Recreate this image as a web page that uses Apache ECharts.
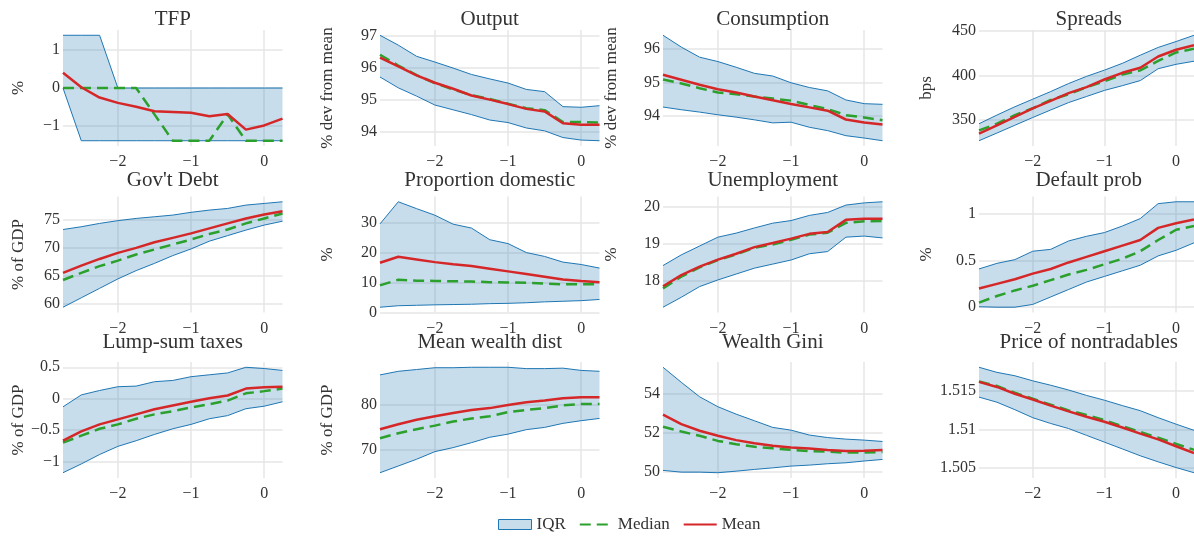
<!DOCTYPE html>
<html>
<head>
<meta charset="utf-8">
<script src="https://cdn.jsdelivr.net/npm/echarts@6/dist/echarts.min.js"></script>
<style>
  html, body { margin: 0; padding: 0; background: #fff; }
  #chart { width: 1194px; height: 536px; }
</style>
</head>
<body>
<div id="chart"></div>
<script>
// Quarters relative to the default event
const quarters = [-2.75, -2.5, -2.25, -2, -1.75, -1.5, -1.25, -1, -0.75, -0.5, -0.25, 0, 0.25];
const xTicks = [-2, -1, 0];

// TFP (%)
const tfpUpper  = [1.38, 1.38, 1.38, 0, 0, 0, 0, 0, 0, 0, 0, 0, 0];
const tfpLower  = [0, -1.38, -1.38, -1.38, -1.38, -1.38, -1.38, -1.38, -1.38, -1.38, -1.38, -1.38, -1.38];
const tfpMedian = [0, 0, 0, 0, 0, -0.69, -1.38, -1.38, -1.38, -0.69, -1.38, -1.38, -1.38];
const tfpMean   = [0.40, 0.02, -0.25, -0.39, -0.49, -0.61, -0.63, -0.65, -0.74, -0.68, -1.09, -0.98, -0.80];
const tfpTicks  = [-1, 0, 1];

// Output (% dev from mean)
const outputUpper  = [97.03, 96.72, 96.37, 96.19, 96.0, 95.8, 95.66, 95.53, 95.33, 95.26, 94.79, 94.77, 94.82];
const outputLower  = [95.72, 95.38, 95.12, 94.84, 94.69, 94.54, 94.37, 94.29, 94.12, 94.03, 93.82, 93.74, 93.72];
const outputMedian = [96.42, 96.08, 95.78, 95.53, 95.33, 95.15, 95.03, 94.88, 94.74, 94.68, 94.31, 94.31, 94.29];
const outputMean   = [96.33, 96.05, 95.77, 95.54, 95.35, 95.14, 95.01, 94.87, 94.72, 94.64, 94.27, 94.22, 94.22];
const outputTicks  = [94, 95, 96, 97];

// Consumption (% dev from mean)
const consUpper  = [96.4, 96.05, 95.75, 95.62, 95.45, 95.27, 95.19, 94.99, 94.85, 94.75, 94.48, 94.37, 94.35];
const consLower  = [94.27, 94.19, 94.12, 94.04, 93.97, 93.89, 93.8, 93.82, 93.67, 93.57, 93.42, 93.35, 93.27];
const consMedian = [95.09, 94.97, 94.83, 94.7, 94.65, 94.58, 94.52, 94.46, 94.33, 94.21, 94.03, 93.96, 93.88];
const consMean   = [95.23, 95.08, 94.93, 94.8, 94.7, 94.58, 94.47, 94.36, 94.26, 94.16, 93.9, 93.81, 93.75];
const consTicks  = [94, 95, 96];

// Spreads (bps)
const spreadUpper  = [346, 355.7, 365, 373.5, 382, 391, 399, 406, 413.6, 422.7, 431.4, 438, 445];
const spreadLower  = [327, 335.6, 344.3, 353, 361.4, 369.7, 376.5, 383.3, 388.6, 394.3, 407.6, 412.5, 416];
const spreadMedian = [338.6, 346, 355.7, 363.3, 372.7, 379, 387, 393.5, 401, 405.7, 416.3, 425.8, 430];
const spreadMean   = [335, 344.3, 353.8, 363.3, 371.6, 380.3, 387, 395.5, 403, 408.7, 421.2, 428.8, 434];
const spreadTicks  = [350, 400, 450];

// Gov't Debt (% of GDP)
const debtUpper  = [73.3, 73.8, 74.4, 74.9, 75.3, 75.6, 75.9, 76.4, 76.8, 77.1, 77.7, 78.0, 78.3];
const debtLower  = [59.3, 61.0, 62.7, 64.4, 65.9, 67.2, 68.6, 69.8, 71.2, 72.2, 73.2, 74.1, 74.8];
const debtMedian = [64.2, 65.5, 66.7, 67.7, 68.8, 69.7, 70.6, 71.5, 72.5, 73.3, 74.4, 75.3, 76.2];
const debtMean   = [65.5, 66.8, 68.0, 69.1, 70.0, 71.0, 71.8, 72.6, 73.5, 74.4, 75.3, 76.0, 76.6];
const debtTicks  = [60, 65, 70, 75];

// Proportion domestic (%)
const domUpper  = [29.6, 37.0, 34.7, 32.5, 29.5, 28.2, 24.3, 23.0, 20.0, 18.7, 16.8, 16.0, 14.8];
const domLower  = [1.7, 2.2, 2.35, 2.5, 2.6, 2.7, 2.9, 3.0, 3.2, 3.5, 3.7, 3.9, 4.3];
const domMedian = [9.0, 10.9, 10.6, 10.5, 10.4, 10.3, 10.1, 10.0, 9.9, 9.6, 9.4, 9.4, 9.4];
const domMean   = [16.6, 18.6, 17.7, 16.8, 16.1, 15.5, 14.6, 13.7, 12.8, 11.9, 11.0, 10.5, 10.1];
const domTicks  = [0, 10, 20, 30];

// Unemployment (%)
const unempUpper  = [18.41, 18.7, 18.94, 19.18, 19.29, 19.43, 19.56, 19.63, 19.77, 19.85, 20.05, 20.11, 20.14];
const unempLower  = [17.28, 17.55, 17.84, 18.02, 18.18, 18.34, 18.45, 18.56, 18.73, 18.79, 19.18, 19.21, 19.16];
const unempMedian = [17.79, 18.11, 18.36, 18.56, 18.71, 18.89, 18.98, 19.11, 19.25, 19.3, 19.57, 19.61, 19.62];
const unempMean   = [17.85, 18.15, 18.38, 18.57, 18.73, 18.91, 19.02, 19.14, 19.27, 19.32, 19.65, 19.68, 19.68];
const unempTicks  = [18, 19, 20];

// Default prob (%)
const defUpper  = [0.41, 0.47, 0.51, 0.6, 0.62, 0.71, 0.76, 0.8, 0.87, 0.95, 1.11, 1.13, 1.13];
const defLower  = [0.005, 0, 0, 0.03, 0.11, 0.19, 0.27, 0.33, 0.39, 0.45, 0.55, 0.61, 0.69];
const defMedian = [0.05, 0.12, 0.18, 0.23, 0.29, 0.35, 0.4, 0.46, 0.52, 0.6, 0.72, 0.83, 0.87];
const defMean   = [0.2, 0.25, 0.3, 0.36, 0.41, 0.48, 0.54, 0.6, 0.66, 0.72, 0.85, 0.9, 0.94];
const defTicks  = [0, 0.5, 1];

// Lump-sum taxes (% of GDP)
const taxUpper  = [-0.13, 0.06, 0.13, 0.19, 0.2, 0.27, 0.29, 0.35, 0.38, 0.41, 0.5, 0.48, 0.45];
const taxLower  = [-1.18, -1.04, -0.89, -0.76, -0.67, -0.57, -0.48, -0.41, -0.32, -0.27, -0.16, -0.12, -0.05];
const taxMedian = [-0.7, -0.59, -0.48, -0.41, -0.32, -0.25, -0.2, -0.14, -0.09, -0.03, 0.085, 0.12, 0.16];
const taxMean   = [-0.67, -0.52, -0.41, -0.33, -0.25, -0.17, -0.11, -0.05, 0.005, 0.05, 0.16, 0.18, 0.19];
const taxTicks  = [-1, -0.5, 0, 0.5];

// Mean wealth dist (% of GDP)
const wealthUpper  = [86.7, 87.5, 87.9, 88.3, 88.3, 88.4, 88.4, 88.4, 88.1, 88.1, 88.2, 87.7, 87.5];
const wealthLower  = [64.9, 66.4, 67.9, 69.6, 70.5, 71.6, 72.8, 73.5, 74.5, 75.0, 75.9, 76.5, 77.0];
const wealthMedian = [72.6, 73.7, 74.6, 75.4, 76.3, 77.0, 77.5, 78.4, 78.9, 79.3, 79.9, 80.2, 80.2];
const wealthMean   = [74.6, 75.7, 76.7, 77.5, 78.2, 78.9, 79.3, 80.0, 80.6, 81.0, 81.5, 81.7, 81.7];
const wealthTicks  = [70, 80];

// Wealth Gini
const giniUpper  = [55.37, 54.6, 53.86, 53.35, 52.97, 52.63, 52.29, 52.15, 51.9, 51.77, 51.69, 51.64, 51.57];
const giniLower  = [50.09, 50.0, 50.0, 49.97, 50.05, 50.14, 50.22, 50.31, 50.36, 50.43, 50.48, 50.57, 50.65];
const giniMedian = [52.32, 52.08, 51.86, 51.6, 51.43, 51.3, 51.22, 51.14, 51.08, 51.05, 51.0, 51.0, 51.03];
const giniMean   = [52.94, 52.46, 52.12, 51.86, 51.64, 51.48, 51.35, 51.26, 51.21, 51.14, 51.08, 51.1, 51.14];
const giniTicks  = [50, 52, 54];

// Price of nontradables
const priceUpper  = [1.51808, 1.51742, 1.51698, 1.51632, 1.51575, 1.51513, 1.51443, 1.51381, 1.51311, 1.51245, 1.51154, 1.5107, 1.5099];
const priceLower  = [1.51421, 1.51355, 1.51258, 1.51154, 1.51079, 1.51013, 1.50925, 1.50837, 1.50749, 1.5066, 1.50581, 1.50507, 1.5044];
const priceMedian = [1.51624, 1.51566, 1.51478, 1.51399, 1.51324, 1.51249, 1.51189, 1.51123, 1.51044, 1.50969, 1.50894, 1.50815, 1.50736];
const priceMean   = [1.51619, 1.51553, 1.51465, 1.5139, 1.51311, 1.51236, 1.51167, 1.51101, 1.51026, 1.50947, 1.50872, 1.50784, 1.50696];
const priceTicks  = [1.505, 1.51, 1.515];

const panels = [
  { title: 'TFP',                 unit: '%',               upper: tfpUpper,    lower: tfpLower,    median: tfpMedian,    mean: tfpMean,    ticks: tfpTicks },
  { title: 'Output',              unit: '% dev from mean', upper: outputUpper, lower: outputLower, median: outputMedian, mean: outputMean, ticks: outputTicks },
  { title: 'Consumption',         unit: '% dev from mean', upper: consUpper,   lower: consLower,   median: consMedian,   mean: consMean,   ticks: consTicks },
  { title: 'Spreads',             unit: 'bps',             upper: spreadUpper, lower: spreadLower, median: spreadMedian, mean: spreadMean, ticks: spreadTicks },
  { title: "Gov't Debt",          unit: '% of GDP',        upper: debtUpper,   lower: debtLower,   median: debtMedian,   mean: debtMean,   ticks: debtTicks },
  { title: 'Proportion domestic', unit: '%',               upper: domUpper,    lower: domLower,    median: domMedian,    mean: domMean,    ticks: domTicks },
  { title: 'Unemployment',        unit: '%',               upper: unempUpper,  lower: unempLower,  median: unempMedian,  mean: unempMean,  ticks: unempTicks },
  { title: 'Default prob',        unit: '%',               upper: defUpper,    lower: defLower,    median: defMedian,    mean: defMean,    ticks: defTicks },
  { title: 'Lump-sum taxes',      unit: '% of GDP',        upper: taxUpper,    lower: taxLower,    median: taxMedian,    mean: taxMean,    ticks: taxTicks },
  { title: 'Mean wealth dist',    unit: '% of GDP',        upper: wealthUpper, lower: wealthLower, median: wealthMedian, mean: wealthMean, ticks: wealthTicks },
  { title: 'Wealth Gini',         unit: '',                upper: giniUpper,   lower: giniLower,   median: giniMedian,   mean: giniMean,   ticks: giniTicks },
  { title: 'Price of nontradables', unit: '',              upper: priceUpper,  lower: priceLower,  median: priceMedian,  mean: priceMean,  ticks: priceTicks }
];

// ---- styling / layout ----
const FONT = '"Liberation Serif", "DejaVu Serif", serif';
const TEXT = '#333';
const GRID_LINE = '#e6e6e6';
const BLUE = '#1f77b4';
const BAND_FILL = 'rgba(31,119,180,0.25)';
const GREEN = '#2ca02c';
const RED = '#d62728';

const colLeft = [63, 380, 663, 979];
const rowTop = [30, 196.5, 362];
const plotW = 219.5;
const plotH = 116;
const unitCenterX = [18, 327, 611, 926];
const titleCenterY = [19.5, 180, 342];

const fmt = v => (v < 0 ? '\u2212' + String(-v) : String(v));
const pairs = arr => quarters.map((q, k) => [q, arr[k]]);

const grids = [], xAxes = [], yAxes = [], series = [], texts = [];

panels.forEach((p, i) => {
  const col = i % 4, row = Math.floor(i / 4);
  const left = colLeft[col], top = rowTop[row];

  // y range: data extent padded by 5% on each side
  const all = p.upper.concat(p.lower, p.median, p.mean);
  const lo = Math.min(...all), hi = Math.max(...all);
  const pad = (hi - lo) * 0.05;

  grids.push({ left: left, top: top, width: plotW, height: plotH, containLabel: false });

  xAxes.push({
    type: 'value', gridIndex: i, min: -2.75, max: 0.25,
    axisLine: { show: false },
    axisTick: { show: false, customValues: xTicks },
    axisLabel: { customValues: xTicks, formatter: fmt, fontFamily: FONT, fontSize: 16, color: TEXT, margin: 8 },
    splitLine: { show: true, lineStyle: { color: GRID_LINE, width: 1.5 } }
  });

  yAxes.push({
    type: 'value', gridIndex: i, min: lo - pad, max: hi + pad,
    name: p.unit, nameLocation: 'middle',
    nameGap: left - unitCenterX[col] - 9,
    nameTextStyle: { fontFamily: FONT, fontSize: 17, color: TEXT },
    axisLine: { show: false },
    axisTick: { show: false, customValues: p.ticks },
    axisLabel: { customValues: p.ticks, formatter: fmt, fontFamily: FONT, fontSize: 16, color: TEXT, margin: 3 },
    splitLine: { show: true, lineStyle: { color: GRID_LINE, width: 1.5 } }
  });

  // interquartile band: filled polygon between lower and upper, outlined on both edges
  const bandData = quarters.map((q, k) => [q, p.lower[k], p.upper[k]]);
  series.push({
    type: 'custom', name: 'IQR', xAxisIndex: i, yAxisIndex: i,
    data: bandData, encode: { x: 0, y: [1, 2] },
    itemStyle: { color: BAND_FILL },
    silent: true,
    renderItem: (params, api) => {
      if (params.dataIndex !== 0) return null;
      const topPts = bandData.map(d => api.coord([d[0], d[2]]));
      const botPts = bandData.map(d => api.coord([d[0], d[1]]));
      return {
        type: 'group',
        children: [
          { type: 'polygon', shape: { points: topPts.concat(botPts.slice().reverse()) }, style: { fill: BAND_FILL } },
          { type: 'polyline', shape: { points: topPts }, style: { stroke: BLUE, lineWidth: 1, fill: null } },
          { type: 'polyline', shape: { points: botPts }, style: { stroke: BLUE, lineWidth: 1, fill: null } }
        ]
      };
    }
  });

  series.push({
    type: 'line', name: 'Median', xAxisIndex: i, yAxisIndex: i,
    data: pairs(p.median), symbol: 'none', silent: true,
    lineStyle: { color: GREEN, width: 2.5, type: [11, 6] },
    itemStyle: { color: GREEN }
  });

  series.push({
    type: 'line', name: 'Mean', xAxisIndex: i, yAxisIndex: i,
    data: pairs(p.mean), symbol: 'none', silent: true,
    lineStyle: { color: RED, width: 2.5 },
    itemStyle: { color: RED }
  });

  texts.push({
    type: 'text', x: left + plotW / 2, y: titleCenterY[row], z: 10,
    style: { text: p.title, align: 'center', verticalAlign: 'middle', font: '21px ' + FONT, fill: TEXT }
  });
});

const chart = echarts.init(document.getElementById('chart'), null, { renderer: 'canvas' });
chart.setOption({
  animation: false,
  backgroundColor: '#fff',
  grid: grids,
  xAxis: xAxes,
  yAxis: yAxes,
  series: series,
  graphic: texts,
  legend: {
    left: 493, top: 511,
    itemWidth: 33, itemHeight: 10, itemGap: 13,
    textStyle: { fontFamily: FONT, fontSize: 17, color: TEXT },
    data: [
      { name: 'IQR', icon: 'rect', itemStyle: { color: BAND_FILL, borderColor: BLUE, borderWidth: 1 } },
      { name: 'Median', itemStyle: { opacity: 0 } },
      { name: 'Mean', itemStyle: { opacity: 0 } }
    ]
  }
});
</script>
</body>
</html>
